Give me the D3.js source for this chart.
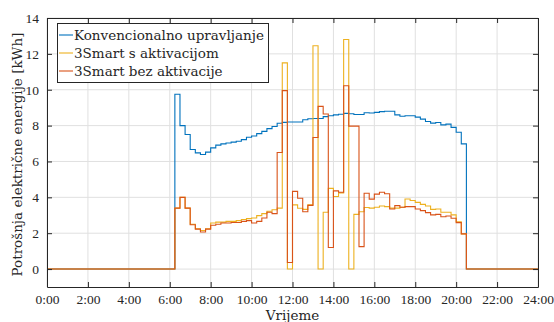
<!DOCTYPE html>
<html>
<head>
<meta charset="utf-8">
<script src="https://cdn.jsdelivr.net/npm/d3@7"></script>
<style>
  html, body { margin: 0; padding: 0; background: #fff; }
  svg { display: block; }
  svg text { fill: #262626; }
</style>
</head>
<body>
<svg id="chart" width="554" height="322"></svg>
<script>
// ---- data ----
// 15-minute intervals; active period starts at 6:15 and ends at 20:30, zero elsewhere
const seriesNames = ["Konvencionalno upravljanje", "3Smart s aktivacijom", "3Smart bez aktivacije"];
const seriesColors = ["#0072BD", "#EDB120", "#D95319"];
const startHour = 6.25;   // 6:15
const stepHours = 0.25;   // 15 min
const konvencionalno = [9.75, 8.0, 7.5, 6.67, 6.48, 6.39, 6.52, 6.76, 6.91, 6.98,
  7.03, 7.08, 7.13, 7.22, 7.35, 7.42, 7.55, 7.68, 7.83, 7.95,
  8.13, 8.18, 8.2, 8.2, 8.2, 8.33, 8.38, 8.4, 8.4, 8.5,
  8.55, 8.6, 8.63, 8.68, 8.66, 8.62, 8.62, 8.72, 8.7, 8.74,
  8.78, 8.8, 8.8, 8.6, 8.52, 8.55, 8.55, 8.47, 8.36, 8.23,
  8.14, 8.17, 8.04, 8.08, 7.9, 7.63, 6.98];
const sAktivacijom = [3.4, 4.0, 3.4, 2.5, 2.25, 2.15, 2.25, 2.57, 2.62, 2.62,
  2.66, 2.66, 2.7, 2.76, 2.81, 2.85, 2.98, 3.09, 3.22, 3.31,
  3.4, 11.5, 0, 3.58, 3.39, 3.33, 3.58, 12.45, 0, 3.17,
  4.5, 4.05, 4.25, 12.8, 0, 3.05, 3.2, 3.43, 3.4, 3.45,
  3.52, 3.48, 3.4, 3.4, 3.45, 3.91, 3.82, 3.72, 3.61, 3.52,
  3.33, 3.35, 3.17, 3.17, 3.02, 2.64, 1.96];
const bezAktivacije = [3.4, 4.0, 3.4, 2.47, 2.23, 2.07, 2.23, 2.44, 2.5, 2.57,
  2.57, 2.6, 2.6, 2.66, 2.7, 2.57, 2.66, 2.85, 3.17, 3.09,
  6.5, 9.95, 0.37, 4.33, 3.95, 3.2, 3.55, 7.34, 9.07, 8.65,
  1.2, 4.36, 4.28, 10.22, 7.97, 7.97, 1.25, 4.23, 3.9, 4.18,
  4.28, 4.2, 3.35, 3.54, 3.45, 3.48, 3.48, 3.35, 3.26, 3.15,
  3.02, 3.05, 2.92, 2.96, 2.83, 2.59, 1.96];
const xTicks = [0, 2, 4, 6, 8, 10, 12, 14, 16, 18, 20, 22, 24];
const xTickLabels = ["0:00", "2:00", "4:00", "6:00", "8:00", "10:00", "12:00", "14:00", "16:00", "18:00", "20:00", "22:00", "24:00"];
const yTicks = [0, 2, 4, 6, 8, 10, 12, 14];
const xLabel = "Vrijeme";
const yLabel = "Potrošnja električne energije [kWh]";

// ---- layout ----
const FONT_NUM = '"Liberation Serif", Tinos, "Times New Roman", serif';
const FONT_TXT = '"DejaVu Serif", "Liberation Serif", serif';
const svg = d3.select("#chart");
const L = 47, R = 538, T = 18, B = 287;
const x = d3.scaleLinear().domain([0, 24]).range([L, R]);
const y = d3.scaleLinear().domain([-1, 14]).range([B, T]);
const axisColor = "#262626";

// grid
const g = svg.append("g");
g.selectAll("line.gx").data(xTicks).join("line")
  .attr("x1", d => x(d)).attr("x2", d => x(d)).attr("y1", T).attr("y2", B)
  .attr("stroke", "#e0e0e0").attr("stroke-width", 1);
g.selectAll("line.gy").data(yTicks).join("line")
  .attr("x1", L).attr("x2", R).attr("y1", d => y(d)).attr("y2", d => y(d))
  .attr("stroke", "#e0e0e0").attr("stroke-width", 1);

// series
function toPoints(vals) {
  const pts = [{t: 0, v: 0}];
  vals.forEach((v, i) => pts.push({t: startHour + i * stepHours, v}));
  pts.push({t: startHour + vals.length * stepHours, v: 0});
  pts.push({t: 24, v: 0});
  return pts;
}
const line = d3.line().x(d => x(d.t)).y(d => y(d.v)).curve(d3.curveStepAfter);
[konvencionalno, sAktivacijom, bezAktivacije].forEach((vals, k) => {
  svg.append("path").datum(toPoints(vals))
    .attr("d", line).attr("fill", "none")
    .attr("stroke", seriesColors[k]).attr("stroke-width", 1.1)
    .attr("stroke-linejoin", "miter");
});

// axes (box with inward ticks)
const tickLen = 5;
const axB = svg.append("g").attr("transform", `translate(0,${B})`)
  .call(d3.axisBottom(x).tickValues(xTicks).tickSizeInner(-tickLen).tickSizeOuter(0)
    .tickPadding(7).tickFormat((d, i) => xTickLabels[i]));
const axT = svg.append("g").attr("transform", `translate(0,${T})`)
  .call(d3.axisTop(x).tickValues(xTicks).tickSizeInner(-tickLen).tickSizeOuter(0).tickFormat(""));
const axL = svg.append("g").attr("transform", `translate(${L},0)`)
  .call(d3.axisLeft(y).tickValues(yTicks).tickSizeInner(-tickLen).tickSizeOuter(0).tickPadding(8));
const axR = svg.append("g").attr("transform", `translate(${R},0)`)
  .call(d3.axisRight(y).tickValues(yTicks).tickSizeInner(-tickLen).tickSizeOuter(0).tickFormat(""));
[axB, axT, axL, axR].forEach(a => {
  a.attr("font-family", FONT_NUM).attr("font-size", 13.5);
  a.select(".domain").attr("stroke", axisColor);
  a.selectAll(".tick line").attr("stroke", axisColor);
  a.selectAll(".tick text").attr("fill", axisColor).attr("font-family", FONT_NUM).attr("font-size", 13.5);
});

// axis labels
svg.append("text").attr("x", (L + R) / 2).attr("y", 320).attr("text-anchor", "middle")
  .attr("font-family", FONT_TXT).attr("font-size", 13.5).text(xLabel);
svg.append("text").attr("transform", `translate(22,${(T + B) / 2 + 2}) rotate(-90)`)
  .attr("text-anchor", "middle").attr("font-family", FONT_TXT).attr("font-size", 13.5).text(yLabel);

// legend
const lg = svg.append("g");
lg.append("rect").attr("x", 57.5).attr("y", 23.5).attr("width", 211).attr("height", 59)
  .attr("fill", "#fff").attr("stroke", axisColor).attr("stroke-width", 1);
seriesNames.forEach((name, k) => {
  const yy = 35 + k * 18;
  lg.append("line").attr("x1", 59).attr("x2", 73).attr("y1", yy).attr("y2", yy)
    .attr("stroke", seriesColors[k]).attr("stroke-width", 1.1);
  lg.append("text").attr("x", 74).attr("y", yy + 5).attr("font-family", FONT_TXT)
    .attr("font-size", 13.5).text(name);
});
</script>
</body>
</html>
